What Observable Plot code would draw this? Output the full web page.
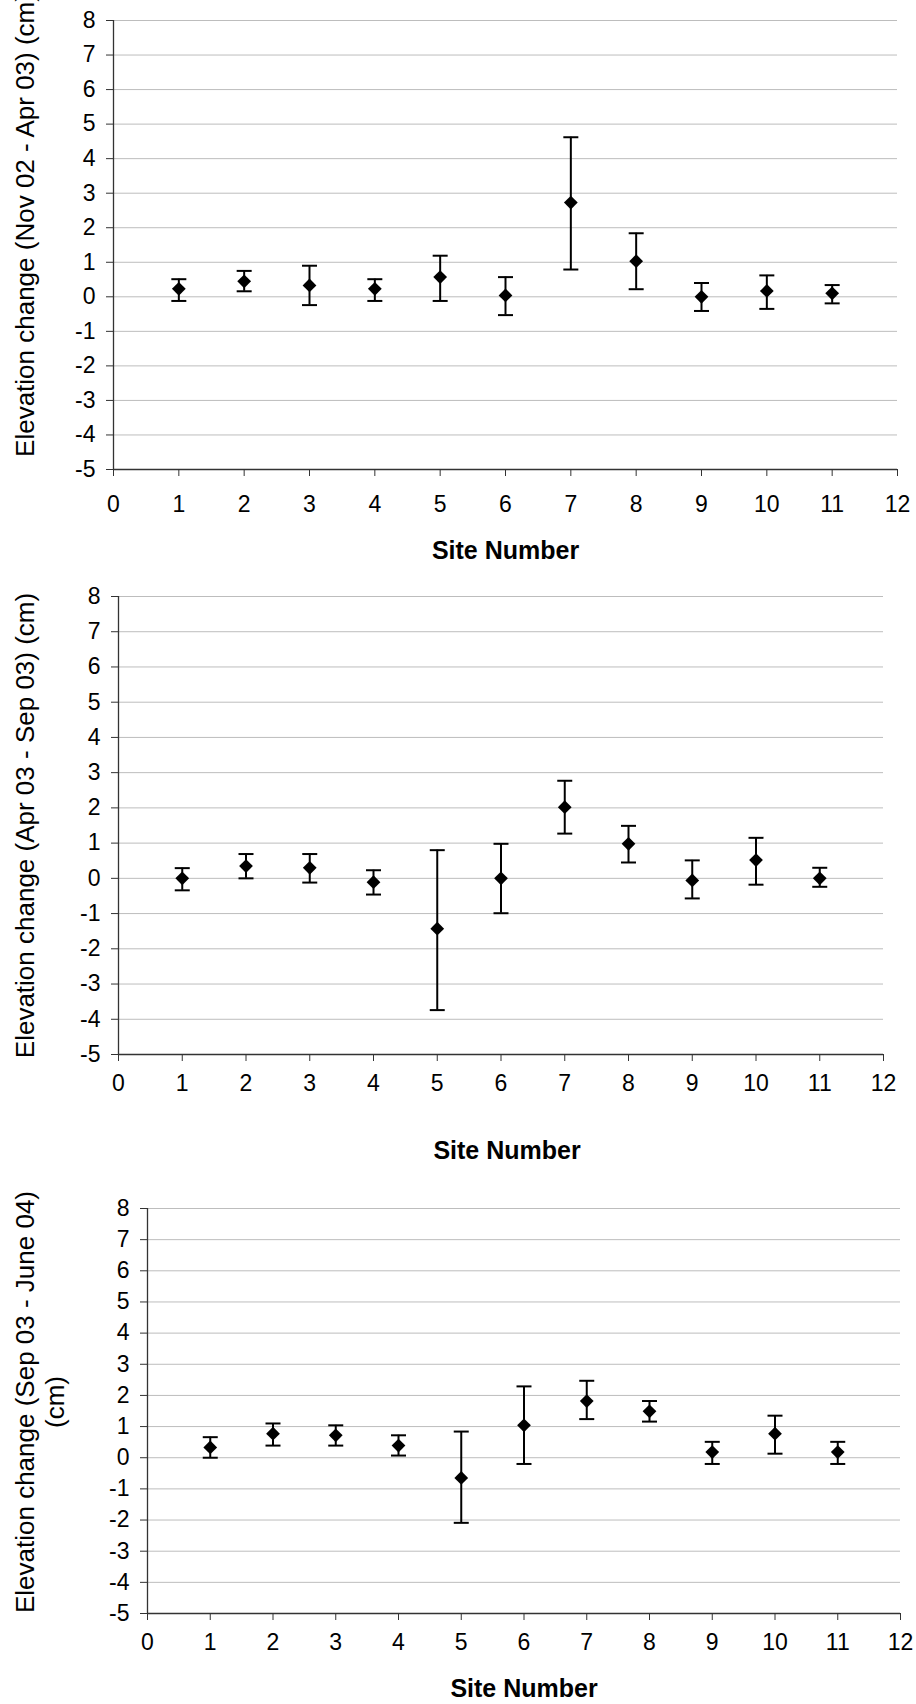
<!DOCTYPE html>
<html>
<head>
<meta charset="utf-8">
<script src="https://cdn.jsdelivr.net/npm/d3@7"></script>
<script src="https://cdn.jsdelivr.net/npm/@observablehq/plot@0.6"></script>
<style>
  html, body { margin: 0; padding: 0; background: #fff; overflow: hidden; }
  svg { display: block; }
</style>
</head>
<body>
<div id="chart"></div>
<script>
// ---- data ----
const sites = [1, 2, 3, 4, 5, 6, 7, 8, 9, 10, 11];
const xTicks = [0, 1, 2, 3, 4, 5, 6, 7, 8, 9, 10, 11, 12];
const yTicks = [-5, -4, -3, -2, -1, 0, 1, 2, 3, 4, 5, 6, 7, 8];
const xTitle = "Site Number";

// Panel 1: Nov 02 - Apr 03
const p1Title = "Elevation change (Nov 02 - Apr 03) (cm)";
const p1Mean = [0.23, 0.45, 0.33, 0.23, 0.57, 0.04, 2.73, 1.03, 0.00, 0.17, 0.10];
const p1High = [0.51, 0.75, 0.90, 0.51, 1.19, 0.57, 4.62, 1.84, 0.40, 0.62, 0.34];
const p1Low  = [-0.12, 0.16, -0.24, -0.12, -0.12, -0.53, 0.79, 0.22, -0.41, -0.35, -0.19];

// Panel 2: Apr 03 - Sep 03
const p2Title = "Elevation change (Apr 03 - Sep 03) (cm)";
const p2Mean = [0.00, 0.35, 0.30, -0.11, -1.43, 0.00, 2.02, 0.98, -0.06, 0.52, 0.00];
const p2High = [0.29, 0.69, 0.69, 0.23, 0.80, 0.98, 2.77, 1.49, 0.51, 1.15, 0.30];
const p2Low  = [-0.34, 0.00, -0.12, -0.46, -3.74, -0.99, 1.27, 0.45, -0.57, -0.18, -0.24];

// Panel 3: Sep 03 - June 04
const p3Title = "Elevation change (Sep 03 - June 04)\n(cm)";
const p3Mean = [0.33, 0.77, 0.72, 0.39, -0.65, 1.04, 1.82, 1.49, 0.18, 0.77, 0.18];
const p3High = [0.66, 1.10, 1.04, 0.72, 0.84, 2.29, 2.47, 1.82, 0.51, 1.35, 0.51];
const p3Low  = [0.00, 0.39, 0.39, 0.07, -2.09, -0.20, 1.24, 1.16, -0.20, 0.13, -0.20];

// error-bar cap: a horizontal stroke symbol
const cap = {
  draw(context, size) {
    const w = Math.sqrt(size / Math.PI);
    context.moveTo(-w, 0);
    context.lineTo(w, 0);
  }
};

function panel(o) {
  const rows = sites.map((s, i) => ({site: s, mean: o.mean[i], high: o.high[i], low: o.low[i]}));
  return Plot.plot({
    width: 916,
    height: o.height,
    marginTop: o.mt,
    marginBottom: o.mb,
    marginLeft: o.ml,
    marginRight: o.mr,
    x: {domain: [0, 12]},
    y: {domain: [-5, 8]},
    style: {
      fontFamily: "'Liberation Sans', Arial, sans-serif",
      fontSize: "23px",
      color: "black",
      background: "white",
      overflow: "hidden"
    },
    marks: [
      Plot.gridY(yTicks, {stroke: "#bdbdbd", strokeOpacity: 1, strokeWidth: 1}),
      Plot.ruleX([0], {stroke: "#333", strokeWidth: 1.3}),
      Plot.ruleY([-5], {stroke: "#333", strokeWidth: 1.3}),
      Plot.axisY(yTicks, {tickSize: 7, tickPadding: 11, label: null, stroke: "#333", tickFormat: d => String(d)}),
      Plot.axisX(xTicks, {tickSize: 7, tickPadding: o.tickPad, label: null, stroke: "#333", tickFormat: d => String(d)}),
      Plot.ruleX(rows, {x: "site", y1: "low", y2: "high", stroke: "black", strokeWidth: 2}),
      Plot.dot(rows, {x: "site", y: "high", symbol: cap, r: 7.5, stroke: "black", strokeWidth: 2, fill: "none"}),
      Plot.dot(rows, {x: "site", y: "low", symbol: cap, r: 7.5, stroke: "black", strokeWidth: 2, fill: "none"}),
      Plot.dot(rows, {x: "site", y: "mean", symbol: "diamond2", r: 6.2, fill: "black", stroke: "none"}),
      Plot.text([o.title], {text: d => d, frameAnchor: "left", textAnchor: "middle", lineAnchor: "middle",
        rotate: -90, dx: o.yDx, dy: o.yDy, fontSize: 26, lineHeight: 1.15}),
      Plot.text([xTitle], {text: d => d, frameAnchor: "bottom", textAnchor: "middle", lineAnchor: "middle",
        dx: o.xDx, dy: o.xDy, fontSize: 25, fontWeight: "bold"})
    ]
  });
}

const root = document.getElementById("chart");
root.append(panel({
  title: p1Title, mean: p1Mean, high: p1High, low: p1Low,
  height: 570, mt: 20, mb: 101, ml: 113, mr: 19,
  tickPad: 19, yDx: -89, yDy: -20, xDx: 0, xDy: 81
}));
root.append(panel({
  title: p2Title, mean: p2Mean, high: p2High, low: p2Low,
  height: 595, mt: 26, mb: 111, ml: 118, mr: 33,
  tickPad: 13, yDx: -94, yDy: 0, xDx: 6, xDy: 96
}));
root.append(panel({
  title: p3Title, mean: p3Mean, high: p3High, low: p3Low,
  height: 539, mt: 43, mb: 91, ml: 147, mr: 16,
  tickPad: 13, yDx: -108, yDy: -9, xDx: 0, xDy: 75
}));
</script>
</body>
</html>
